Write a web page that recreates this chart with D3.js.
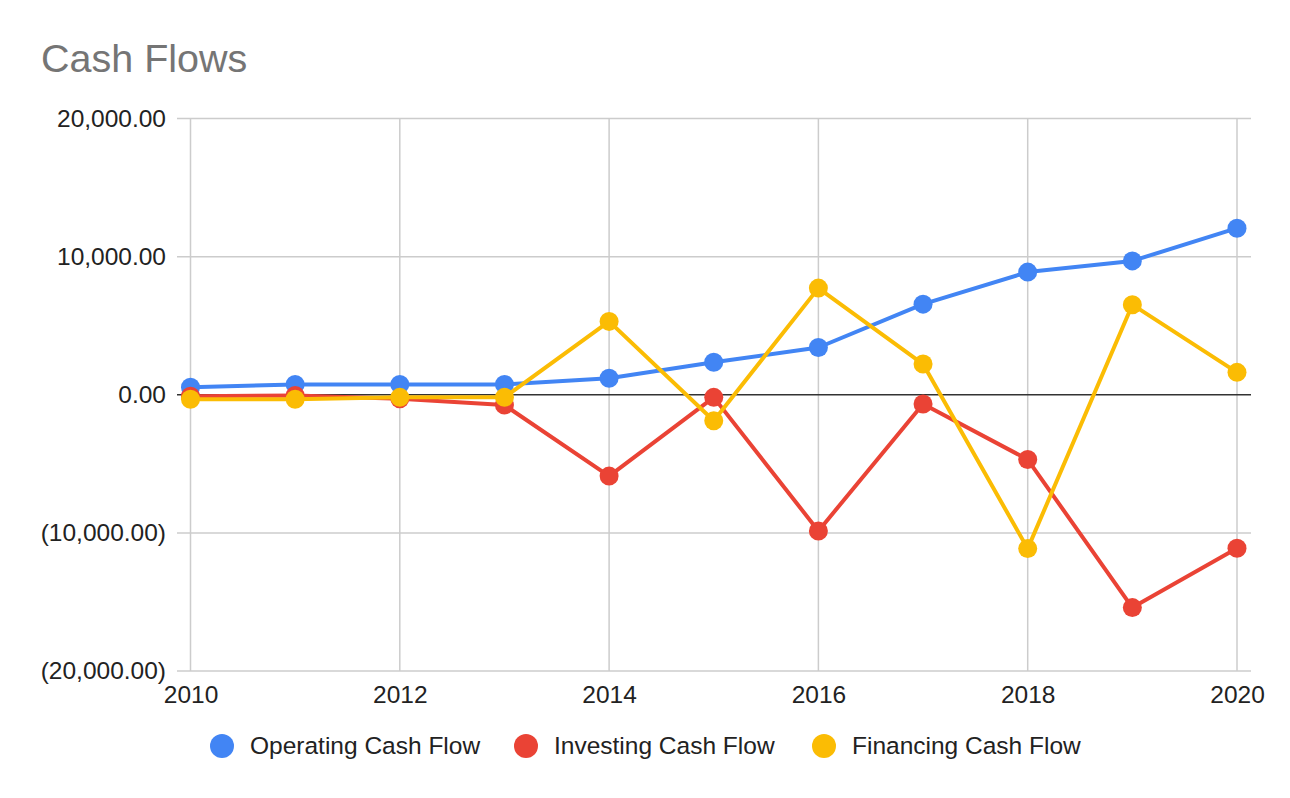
<!DOCTYPE html>
<html>
<head>
<meta charset="utf-8">
<script src="https://cdn.jsdelivr.net/npm/d3@7"></script>
<style>
  html, body { margin: 0; padding: 0; background: #fff; }
  svg { display: block; font-family: "Liberation Sans", Arial, sans-serif; }
</style>
</head>
<body>
<div id="chart"></div>
<script>
// --- Data ---
const years = [2010, 2011, 2012, 2013, 2014, 2015, 2016, 2017, 2018, 2019, 2020];
const operating = [540, 750, 750, 750, 1200, 2350, 3420, 6560, 8880, 9690, 12060];
const investing = [-100, -60, -290, -750, -5890, -190, -9860, -670, -4690, -15410, -11110];
const financing = [-330, -330, -190, -190, 5310, -1880, 7720, 2220, -11140, 6520, 1620];
const seriesNames = ["Operating Cash Flow", "Investing Cash Flow", "Financing Cash Flow"];
const yTicks = [-20000, -10000, 0, 10000, 20000];
const xTicks = [2010, 2012, 2014, 2016, 2018, 2020];

const colors = ["#4285F4", "#EA4335", "#FBBC04"];
const series = [operating, investing, financing];

const width = 1290, height = 798;
const svg = d3.select("#chart").append("svg")
    .attr("width", width)
    .attr("height", height);

// --- Title ---
svg.append("text")
    .attr("x", 41)
    .attr("y", 72)
    .attr("font-size", "39.5px")
    .attr("fill", "#757575")
    .text("Cash Flows");

// --- Scales ---
const x = d3.scaleLinear().domain([2010, 2020]).range([190.5, 1237]);
const y = d3.scaleLinear().domain([-20000, 20000]).range([671, 118.5]);

const fmt = v => {
    const s = d3.format(",.2f")(Math.abs(v));
    return v < 0 ? `(${s})` : s;
};

// --- Grid ---
const grid = svg.append("g");
grid.selectAll(".hgrid")
    .data(yTicks.filter(d => d !== 0))
    .enter().append("line")
    .attr("x1", 177).attr("x2", 1251)
    .attr("y1", d => y(d)).attr("y2", d => y(d))
    .attr("stroke", "#cccccc")
    .attr("stroke-width", 1.5);

grid.selectAll(".vgrid")
    .data(xTicks)
    .enter().append("line")
    .attr("x1", d => x(d)).attr("x2", d => x(d))
    .attr("y1", y(20000)).attr("y2", y(-20000))
    .attr("stroke", "#cccccc")
    .attr("stroke-width", 1.5);

// --- Axes (labels only) ---
const yAxis = svg.append("g")
    .attr("transform", "translate(166,0)")
    .call(d3.axisLeft(y).tickValues(yTicks).tickFormat(fmt).tickSize(0).tickPadding(0));
yAxis.select(".domain").remove();
yAxis.selectAll("text")
    .attr("font-size", "24.5px")
    .attr("fill", "#222")
    .attr("font-family", "Liberation Sans, Arial, sans-serif");

const xAxis = svg.append("g")
    .attr("transform", "translate(0,686)")
    .call(d3.axisBottom(x).tickValues(xTicks).tickFormat(d3.format("d")).tickSize(0).tickPadding(0));
xAxis.select(".domain").remove();
xAxis.selectAll("text")
    .attr("font-size", "24.5px")
    .attr("fill", "#222")
    .attr("font-family", "Liberation Sans, Arial, sans-serif");

// --- Zero line ---
svg.append("line")
    .attr("x1", 177).attr("x2", 1251)
    .attr("y1", y(0)).attr("y2", y(0))
    .attr("stroke", "#333333")
    .attr("stroke-width", 1.5);

// --- Series ---
const line = d3.line()
    .x((d, i) => x(years[i]))
    .y(d => y(d));

series.forEach((vals, si) => {
    const g = svg.append("g");
    g.append("path")
        .datum(vals)
        .attr("d", line)
        .attr("fill", "none")
        .attr("stroke", colors[si])
        .attr("stroke-width", 4)
        .attr("stroke-linejoin", "round");
    g.selectAll("circle")
        .data(vals)
        .enter().append("circle")
        .attr("cx", (d, i) => x(years[i]))
        .attr("cy", d => y(d))
        .attr("r", 9.5)
        .attr("fill", colors[si]);
});

// --- Legend ---
const legendX = [222, 526, 824];
const legend = svg.append("g");
seriesNames.forEach((name, i) => {
    legend.append("circle")
        .attr("cx", legendX[i])
        .attr("cy", 746)
        .attr("r", 12)
        .attr("fill", colors[i]);
    legend.append("text")
        .attr("x", legendX[i] + 28)
        .attr("y", 745)
        .attr("dy", "0.35em")
        .attr("font-size", "24.5px")
        .attr("fill", "#222")
        .text(name);
});
</script>
</body>
</html>
